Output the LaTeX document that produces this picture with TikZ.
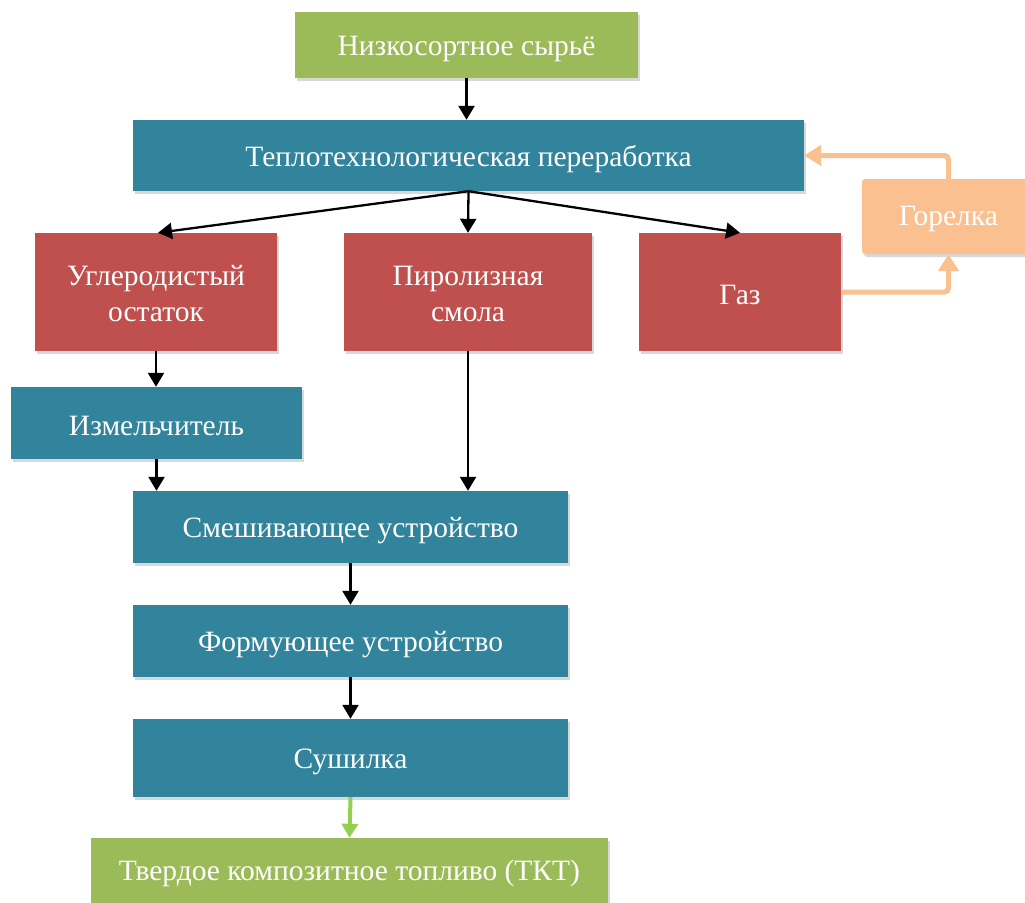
\documentclass[tikz,border=0pt]{standalone}
\usepackage{fontspec}
\setmainfont{Liberation Serif}
\usetikzlibrary{arrows.meta,shadows}
\definecolor{cgreen}{HTML}{9BBB59}
\definecolor{cteal}{HTML}{31849B}
\definecolor{cred}{HTML}{C0504D}
\definecolor{corange}{HTML}{FAC090}
\definecolor{carrgreen}{HTML}{92D050}
\tikzset{
  box/.style={inner sep=0pt,
    drop shadow={opacity=0.3, shadow xshift=2pt, shadow yshift=-3pt}},
  txt/.style={inner sep=0pt, text=white, align=center,
    font=\fontsize{29.5}{36}\selectfont},
  gbox/.style={box, fill=cgreen},
  tbox/.style={box, fill=cteal},
  rbox/.style={box, fill=cred},
  obox/.style={box, fill=corange, rounded corners=3pt},
  arr/.style={draw=black, line width=2.3pt, -{Triangle[width=16pt,length=14pt]}},
  oarr/.style={draw=corange, line width=5pt, rounded corners=4pt, -{Triangle[width=20pt,length=17pt]}},
  garr/.style={draw=carrgreen, line width=4pt, -{Triangle[width=16pt,length=14pt]}}
}
\begin{document}
\begin{tikzpicture}[x=1pt,y=-1pt]
\useasboundingbox (0,0) rectangle (1025,902);
\clip (0,0) rectangle (1025,902);
\fill[white] (0,0) rectangle (1025,902);
\node[gbox, minimum width=343pt, minimum height=66pt] (raw) at (466.5,45) {};
\node[tbox, minimum width=671pt, minimum height=71pt] (tp) at (468.5,155.5) {};
\node[rbox, minimum width=242pt, minimum height=118pt] (ugl) at (156,292) {};
\node[rbox, minimum width=248pt, minimum height=118pt] (pir) at (468,292) {};
\node[rbox, minimum width=202pt, minimum height=118pt] (gaz) at (740,292) {};
\node[obox, minimum width=173pt, minimum height=75pt] (gor) at (948.5,216.5) {};
\node[tbox, minimum width=291pt, minimum height=72pt] (izm) at (156.5,423) {};
\node[tbox, minimum width=435pt, minimum height=72pt] (sme) at (350.5,527) {};
\node[tbox, minimum width=435pt, minimum height=72pt] (frm) at (350.5,641) {};
\node[tbox, minimum width=435pt, minimum height=78pt] (sus) at (350.5,758) {};
\node[gbox, minimum width=517pt, minimum height=68pt] (tkt) at (349.5,872) {};

\node[txt] (rawt) at ([yshift=-4pt]raw.center) {Низкосортное сырьё};
\node[txt] (tpt) at ([yshift=-4pt]tp.center) {Теплотехнологическая переработка};
\node[txt] (uglt) at ([yshift=-2pt]ugl.center) {Углеродистый\\остаток};
\node[txt] (pirt) at ([yshift=-2pt]pir.center) {Пиролизная\\смола};
\node[txt] (gazt) at ([yshift=-3pt]gaz.center) {Газ};
\node[txt] (gort) at ([yshift=-2pt]gor.center) {Горелка};
\node[txt] (izmt) at ([yshift=-3pt]izm.center) {Измельчитель};
\node[txt] (smet) at ([yshift=-4pt]sme.center) {Смешивающее устройство};
\node[txt] (frmt) at ([yshift=-4pt]frm.center) {Формующее устройство};
\node[txt] (sust) at ([yshift=-4pt]sus.center) {Сушилка};
\node[txt] (tktt) at ([yshift=-1pt]tkt.center) {Твердое композитное топливо (ТКТ)};

\draw[arr] (raw.south) -- (raw.south |- tp.north);
\draw[arr] (tp.south) -- ([xshift=2pt]ugl.north);
\draw[arr] (tp.south) -- (pir.north);
\draw[arr] (tp.south) -- (gaz.north);
\draw[arr] (ugl.south) -- (ugl.south |- izm.north);
\draw[arr] (izm.south) -- (izm.south |- sme.north);
\draw[arr] (pir.south) -- (pir.south |- sme.north);
\draw[arr] (sme.south) -- (frm.north);
\draw[arr] (frm.south) -- (sus.north);
\draw[garr] (sus.south) -- (tkt.north);
\draw[oarr] (gaz.east) -| (gor.south);
\draw[oarr] (gor.north) |- (tp.east);
\end{tikzpicture}
\end{document}
